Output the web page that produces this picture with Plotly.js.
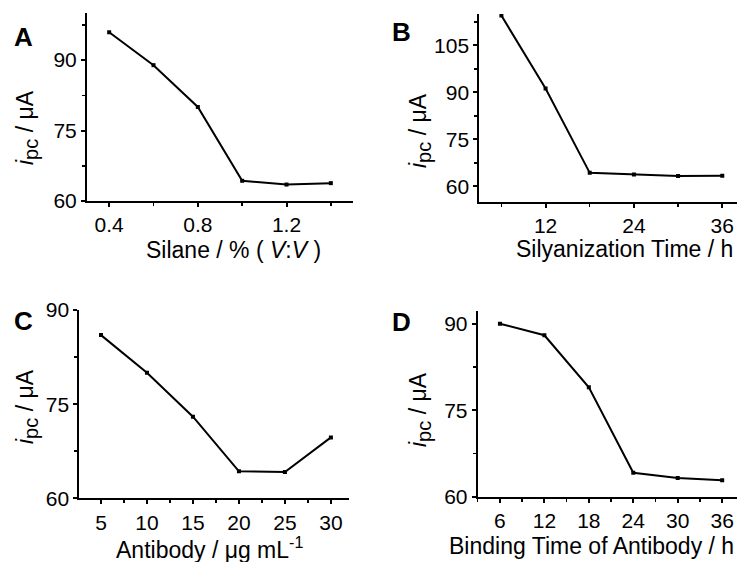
<!DOCTYPE html>
<html>
<head>
<meta charset="utf-8">
<script src="https://cdn.plot.ly/plotly-3.0.1.min.js"></script>
<style>html,body{margin:0;padding:0;background:#fff;}#chart{width:737px;height:562px;}</style>
</head>
<body>
<div id="chart"></div>
<script>
// Data
const silane = [0.4, 0.6, 0.8, 1.0, 1.2, 1.4];
const ipcA   = [95.9, 88.9, 80.0, 64.3, 63.5, 63.8];
const silTime = [6, 12, 18, 24, 30, 36];
const ipcB    = [114.5, 91.2, 64.3, 63.8, 63.3, 63.4];
const antibody = [5, 10, 15, 20, 25, 30];
const ipcC     = [86.0, 80.0, 73.0, 64.3, 64.2, 69.7];
const bindTime = [6, 12, 18, 24, 30, 36];
const ipcD     = [90.0, 88.0, 79.0, 64.2, 63.3, 62.9];
const panelLabels = ['A', 'B', 'C', 'D'];
const xTitles = ['Silane / % ( <i>V</i>:<i>V</i> )', 'Silyanization Time / h',
                 'Antibody / μg mL<sup>-1</sup>', 'Binding Time of Antibody / h'];
const yTitle = '<i>i</i><sub><span style="font-size:20px">pc</span></sub> / μA';

const W = 737, H = 562;
const fx = p => p / W;
const fy = p => 1 - p / H;
const FONT = 'Arial, "Liberation Sans", sans-serif';

function trace(x, y, xa, ya) {
  return {x: x, y: y, xaxis: xa, yaxis: ya, type: 'scatter', mode: 'lines+markers',
    line: {color: '#000', width: 2}, marker: {symbol: 'square', size: 4, color: '#000'},
    showlegend: false, hoverinfo: 'x+y'};
}

function xaxis(dom, range, tick0, dtick, minorD, anchor) {
  return {domain: dom, range: range, anchor: anchor, tick0: tick0, dtick: dtick,
    showline: true, linecolor: '#000', linewidth: 2, mirror: false,
    ticks: 'outside', ticklen: 4, tickwidth: 2, tickcolor: '#000',
    minor: {dtick: minorD, tick0: tick0, ticks: 'outside', ticklen: 3, tickwidth: 1.5, tickcolor: '#000', showgrid: false},
    showgrid: false, zeroline: false,
    tickfont: {family: FONT, size: 21, color: '#000'}};
}
function yaxis(dom, range, dtick, anchor) {
  return {domain: dom, range: range, anchor: anchor, tick0: 60, dtick: dtick,
    showline: true, linecolor: '#000', linewidth: 2, mirror: false,
    ticks: 'outside', ticklen: 4, tickwidth: 2, tickcolor: '#000',
    minor: {dtick: dtick / 2, tick0: 60, ticks: 'outside', ticklen: 3, tickwidth: 1.5, tickcolor: '#000', showgrid: false},
    showgrid: false, zeroline: false,
    tickfont: {family: FONT, size: 21, color: '#000'}};
}

const data = [
  trace(silane, ipcA, 'x', 'y'),
  trace(silTime, ipcB, 'x2', 'y2'),
  trace(antibody, ipcC, 'x3', 'y3'),
  trace(bindTime, ipcD, 'x4', 'y4')
];

const labelPos  = [[24, 37], [402, 32], [24, 321], [402, 322]];
const xTitlePos = [[233, 250], [624, 249], [210, 548], [591, 546]];
const yTitlePos = [[27, 128], [420, 130], [27, 407], [420, 409]];

const ann = [];
panelLabels.forEach((t, i) => {
  ann.push({text: '<b>' + t + '</b>', xref: 'paper', yref: 'paper',
    x: fx(labelPos[i][0]), y: fy(labelPos[i][1]), xanchor: 'center', yanchor: 'middle',
    showarrow: false, font: {family: FONT, size: 26, color: '#000'}});
  ann.push({text: xTitles[i], xref: 'paper', yref: 'paper',
    x: fx(xTitlePos[i][0]), y: fy(xTitlePos[i][1]), xanchor: 'center', yanchor: 'middle',
    showarrow: false, font: {family: FONT, size: 23, color: '#000'}});
  ann.push({text: yTitle, xref: 'paper', yref: 'paper', textangle: -90,
    x: fx(yTitlePos[i][0]), y: fy(yTitlePos[i][1]), xanchor: 'center', yanchor: 'middle',
    showarrow: false, font: {family: FONT, size: 23, color: '#000'}});
});

const layout = {
  width: W, height: H,
  margin: {l: 0, r: 0, t: 0, b: 0},
  paper_bgcolor: '#fff', plot_bgcolor: '#fff',
  font: {family: FONT, color: '#000'},
  xaxis:  xaxis([fx(87), fx(353)],    [0.3, 1.5],   0.4, 0.4, 0.2, 'y'),
  yaxis:  yaxis([fy(201), fy(13)],    [60, 100],    15, 'x'),
  xaxis2: xaxis([fx(479.3), fx(737)], [3, 38],      12, 12, 6,   'y2'),
  yaxis2: yaxis([fy(202), fy(14)],    [55, 115],    15, 'x2'),
  xaxis3: xaxis([fx(79.3), fx(349.3)],[2.64, 32],   5, 5, 2.5,   'y3'),
  yaxis3: yaxis([fy(498.3), fy(310)], [60, 90],     15, 'x3'),
  xaxis4: xaxis([fx(477.7), fx(737)], [3, 38],      6, 6, 3,     'y4'),
  yaxis4: yaxis([fy(497), fy(310.7)], [60, 92.25],  15, 'x4'),
  annotations: ann
};

Plotly.newPlot('chart', data, layout, {displayModeBar: false, staticPlot: true});
</script>
</body>
</html>
